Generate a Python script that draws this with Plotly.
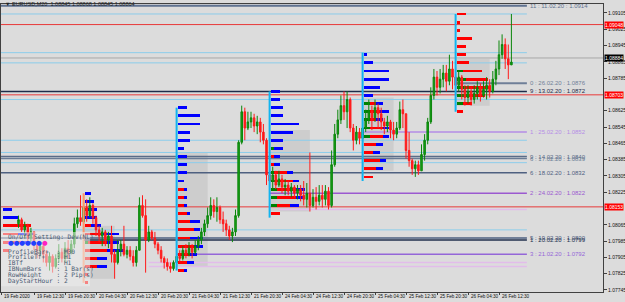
import plotly.graph_objects as go

# ---------------- candles (EURUSD M20) ----------------
bar_index = list(range(160))
opens = [1.0807, 1.0809, 1.0804, 1.0806, 1.0800, 1.0803, 1.0797, 1.0794, 1.0796, 1.0792,
         1.0788, 1.0791, 1.0786, 1.0790, 1.0793, 1.0790, 1.0795, 1.0793, 1.0797, 1.0807,
         1.0810, 1.0808, 1.0815, 1.0811, 1.0816, 1.0810, 1.0804, 1.0801, 1.0803, 1.0799,
         1.0801, 1.0792, 1.0788, 1.0794, 1.0797, 1.0792, 1.0794, 1.0791, 1.0788, 1.0794,
         1.0816, 1.0811, 1.0799, 1.0803, 1.0800, 1.0797, 1.0794, 1.0790, 1.0788, 1.0786,
         1.0785, 1.0788, 1.0791, 1.0790, 1.0794, 1.0792, 1.0795, 1.0793, 1.0796, 1.0799,
         1.0803, 1.0807, 1.0811, 1.0816, 1.0813, 1.0815, 1.0809, 1.0807, 1.0804, 1.0801,
         1.0803, 1.0811, 1.0847, 1.0862, 1.0854, 1.0857, 1.0859, 1.0855, 1.0857, 1.0852,
         1.0848, 1.0831, 1.0828, 1.0831, 1.0826, 1.0829, 1.0825, 1.0826, 1.0823, 1.0825,
         1.0822, 1.0824, 1.0821, 1.0819, 1.0822, 1.0816, 1.0820, 1.0818, 1.0821, 1.0819,
         1.0823, 1.0816, 1.0836, 1.0851, 1.0858, 1.0865, 1.0862, 1.0868, 1.0854, 1.0848,
         1.0852, 1.0849, 1.0854, 1.0858, 1.0862, 1.0859, 1.0864, 1.0861, 1.0857, 1.0855,
         1.0857, 1.0853, 1.0851, 1.0854, 1.0863, 1.0861, 1.0843, 1.0838, 1.0834, 1.0836,
         1.0833, 1.0841, 1.0848, 1.0857, 1.0870, 1.0879, 1.0874, 1.0878, 1.0881, 1.0877,
         1.0883, 1.0879, 1.0875, 1.0879, 1.0873, 1.0869, 1.0872, 1.0868, 1.0871, 1.0874,
         1.0870, 1.0873, 1.0875, 1.0872, 1.0878, 1.0883, 1.0890, 1.0895, 1.0888, 1.0885]
highs = [1.0811, 1.0810, 1.0808, 1.0807, 1.0805, 1.0803, 1.0798, 1.0798, 1.0797, 1.0794,
         1.0793, 1.0792, 1.0792, 1.0797, 1.0795, 1.0798, 1.0799, 1.0799, 1.0810, 1.0814,
         1.0821, 1.0821, 1.0819, 1.0820, 1.0817, 1.0811, 1.0806, 1.0805, 1.0804, 1.0803,
         1.0806, 1.0794, 1.0799, 1.0799, 1.0806, 1.0796, 1.0796, 1.0794, 1.0796, 1.0820,
         1.0821, 1.0819, 1.0806, 1.0804, 1.0803, 1.0798, 1.0796, 1.0791, 1.0790, 1.0788,
         1.0789, 1.0793, 1.0794, 1.0796, 1.0797, 1.0798, 1.0797, 1.0799, 1.0801, 1.0805,
         1.0809, 1.0815, 1.0820, 1.0819, 1.0820, 1.0816, 1.0813, 1.0809, 1.0806, 1.0805,
         1.0814, 1.0848, 1.0865, 1.0864, 1.0862, 1.0862, 1.0861, 1.0860, 1.0859, 1.0856,
         1.0849, 1.0834, 1.0835, 1.0833, 1.0833, 1.0831, 1.0829, 1.0828, 1.0827, 1.0826,
         1.0826, 1.0826, 1.0828, 1.0827, 1.0842, 1.0824, 1.0825, 1.0826, 1.0826, 1.0826,
         1.0825, 1.0843, 1.0856, 1.0863, 1.0870, 1.0872, 1.0872, 1.0869, 1.0856, 1.0855,
         1.0854, 1.0857, 1.0863, 1.0868, 1.0865, 1.0868, 1.0866, 1.0864, 1.0859, 1.0860,
         1.0858, 1.0857, 1.0857, 1.0867, 1.0868, 1.0861, 1.0852, 1.0839, 1.0838, 1.0838,
         1.0846, 1.0851, 1.0859, 1.0874, 1.0883, 1.0882, 1.0883, 1.0885, 1.0885, 1.0890,
         1.0887, 1.0884, 1.0882, 1.0880, 1.0875, 1.0875, 1.0874, 1.0875, 1.0877, 1.0876,
         1.0877, 1.0879, 1.0878, 1.0882, 1.0887, 1.0897, 1.0900, 1.0898, 1.0895, 1.0910]
lows = [1.0805, 1.0803, 1.0800, 1.0798, 1.0797, 1.0794, 1.0790, 1.0791, 1.0788, 1.0786,
        1.0784, 1.0783, 1.0785, 1.0788, 1.0788, 1.0788, 1.0790, 1.0792, 1.0795, 1.0805,
        1.0806, 1.0807, 1.0808, 1.0810, 1.0807, 1.0801, 1.0798, 1.0796, 1.0796, 1.0795,
        1.0788, 1.0780, 1.0787, 1.0791, 1.0791, 1.0790, 1.0789, 1.0786, 1.0786, 1.0794,
        1.0810, 1.0783, 1.0798, 1.0799, 1.0795, 1.0792, 1.0788, 1.0785, 1.0784, 1.0783,
        1.0784, 1.0786, 1.0788, 1.0789, 1.0790, 1.0791, 1.0790, 1.0792, 1.0794, 1.0797,
        1.0801, 1.0805, 1.0809, 1.0810, 1.0808, 1.0807, 1.0803, 1.0801, 1.0799, 1.0798,
        1.0801, 1.0810, 1.0846, 1.0848, 1.0853, 1.0854, 1.0852, 1.0851, 1.0847, 1.0846,
        1.0826, 1.0823, 1.0824, 1.0824, 1.0825, 1.0822, 1.0821, 1.0821, 1.0820, 1.0820,
        1.0819, 1.0818, 1.0816, 1.0815, 1.0813, 1.0815, 1.0814, 1.0816, 1.0815, 1.0816,
        1.0814, 1.0815, 1.0835, 1.0849, 1.0856, 1.0858, 1.0854, 1.0852, 1.0843, 1.0846,
        1.0846, 1.0847, 1.0852, 1.0856, 1.0853, 1.0857, 1.0854, 1.0853, 1.0851, 1.0852,
        1.0849, 1.0848, 1.0849, 1.0853, 1.0854, 1.0839, 1.0835, 1.0831, 1.0830, 1.0831,
        1.0833, 1.0838, 1.0846, 1.0856, 1.0868, 1.0870, 1.0871, 1.0874, 1.0872, 1.0875,
        1.0873, 1.0870, 1.0872, 1.0868, 1.0865, 1.0866, 1.0865, 1.0866, 1.0868, 1.0867,
        1.0869, 1.0868, 1.0869, 1.0871, 1.0875, 1.0880, 1.0888, 1.0883, 1.0878, 1.0885]
closes = [1.0809, 1.0804, 1.0806, 1.0800, 1.0803, 1.0797, 1.0794, 1.0796, 1.0792, 1.0788,
          1.0791, 1.0786, 1.0790, 1.0793, 1.0790, 1.0795, 1.0793, 1.0797, 1.0807, 1.0810,
          1.0808, 1.0815, 1.0811, 1.0816, 1.0810, 1.0804, 1.0801, 1.0803, 1.0799, 1.0801,
          1.0792, 1.0788, 1.0794, 1.0797, 1.0792, 1.0794, 1.0791, 1.0788, 1.0794, 1.0816,
          1.0811, 1.0799, 1.0803, 1.0800, 1.0797, 1.0794, 1.0790, 1.0788, 1.0786, 1.0785,
          1.0788, 1.0791, 1.0790, 1.0794, 1.0792, 1.0795, 1.0793, 1.0796, 1.0799, 1.0803,
          1.0807, 1.0811, 1.0816, 1.0813, 1.0815, 1.0809, 1.0807, 1.0804, 1.0801, 1.0803,
          1.0811, 1.0847, 1.0862, 1.0854, 1.0857, 1.0859, 1.0855, 1.0857, 1.0852, 1.0848,
          1.0831, 1.0828, 1.0831, 1.0826, 1.0829, 1.0825, 1.0826, 1.0823, 1.0825, 1.0822,
          1.0824, 1.0821, 1.0819, 1.0822, 1.0816, 1.0820, 1.0818, 1.0821, 1.0819, 1.0823,
          1.0816, 1.0836, 1.0851, 1.0858, 1.0865, 1.0862, 1.0868, 1.0854, 1.0848, 1.0852,
          1.0849, 1.0854, 1.0858, 1.0862, 1.0859, 1.0864, 1.0861, 1.0857, 1.0855, 1.0857,
          1.0853, 1.0851, 1.0854, 1.0863, 1.0861, 1.0843, 1.0838, 1.0834, 1.0836, 1.0833,
          1.0841, 1.0848, 1.0857, 1.0870, 1.0879, 1.0874, 1.0878, 1.0881, 1.0877, 1.0883,
          1.0879, 1.0875, 1.0879, 1.0873, 1.0869, 1.0872, 1.0868, 1.0871, 1.0874, 1.0870,
          1.0873, 1.0875, 1.0872, 1.0878, 1.0883, 1.0890, 1.0895, 1.0888, 1.0885, 1.08864]

# ---------------- axis labels ----------------
x_tick_bars = [-5.5, 5, 15, 25, 35, 45, 55, 65, 75, 85, 95, 105, 115, 125, 135, 145, 155]
x_tick_text = ["19 Feb 2020", "19 Feb 12:30", "19 Feb 20:30", "20 Feb 04:30", "20 Feb 12:30",
               "20 Feb 20:30", "21 Feb 04:30", "21 Feb 12:30", "21 Feb 20:30", "24 Feb 04:30",
               "24 Feb 12:30", "24 Feb 20:30", "25 Feb 04:30", "25 Feb 12:30", "25 Feb 20:30",
               "26 Feb 04:30", "26 Feb 12:30"]
y_ticks = [1.09105, 1.09025, 1.08945, 1.08865, 1.08785, 1.08625, 1.08545, 1.08465,
           1.08385, 1.08305, 1.08225, 1.08065, 1.07985, 1.07905, 1.07825, 1.07745]
title_text = "\u25bc EURUSD,M20  1.08845 1.08868 1.08845 1.08864"

# ---------------- levels ----------------
label_prices = [1.0914, 1.0876, 1.0872, 1.0852, 1.0840, 1.0839, 1.0832, 1.0822, 1.0800, 1.0799, 1.0792]
label_texts = ["11 : 11.02.20 : 1.0914", "0 : 26.02.20 : 1.0876", "9 : 13.02.20 : 1.0872",
               "1 : 25.02.20 : 1.0852", "9 : 14.02.20 : 1.0840", "6 : 17.02.20 : 1.0839",
               "6 : 18.02.20 : 1.0832", "2 : 24.02.20 : 1.0822", "5 : 19.02.20 : 1.0800",
               "1 : 20.02.20 : 1.0799", "3 : 21.02.20 : 1.0792"]
label_start_bar = [-5.65, 141, -5.65, 111, -5.65, -5.65, -5.65, 81, -5.65, 21, 51]
label_colors = ["#5F7290", "#6F7F98", "#1E2C4A", "#B58DE6", "#5A6C88", "#6A7C96",
                "#4E6080", "#9B59D0", "#4E6080", "#22304E", "#9466D8"]
label_widths = [2, 2, 1.5, 1.5, 1.5, 1.5, 1.5, 1.5, 1.5, 1.5, 1.5]

light_blue_prices = [1.0910, 1.0891, 1.0886, 1.0868, 1.0848, 1.0842, 1.0837, 1.0804]
lilac_prices = [1.0814, 1.0788, 1.0786]
lilac_start_bar = [84, 42, 42]
red_prices = [1.09048, 1.08703, 1.08153]
current_price = 1.08884

# ---------------- market profiles ----------------
pL_start = -5.5
pL_rows = [1.0814, 1.0810, 1.0806, 1.0802, 1.0798, 1.0794]
pL_green = [0, 0, 0, 0, 0, 0]
pL_red = [0, 0, 9, 5, 6, 2]
pL_blue = [3, 5, 0, 5, 3, 0]

p0_start = 21
p0_rows = [1.0822, 1.0818, 1.0814, 1.0810, 1.0806, 1.0802, 1.0798, 1.0794, 1.0790, 1.0786, 1.0782, 1.0778]
p0_green = [0, 0, 0, 0, 0, 0, 1, 0, 0, 0, 0, 0]
p0_red = [0, 0, 1, 0, 2, 5, 6, 7, 4, 4, 1, 1]
p0_blue = [2, 3, 3, 4, 3, 6, 4, 6, 3, 3, 0, 0]

p1_start = 51
p1_rows = [1.0864, 1.0860, 1.0856, 1.0852, 1.0848, 1.0844, 1.0840, 1.0836, 1.0832, 1.0828, 1.0824,
           1.0820, 1.0816, 1.0812, 1.0808, 1.0804, 1.0800, 1.0796, 1.0792, 1.0788, 1.0784]
p1_green = [0] * 21
p1_red = [0, 0, 0, 0, 0, 0, 0, 0, 0, 0, 2, 2, 2, 3, 4, 5, 4, 5, 4, 3, 2]
p1_blue = [3, 7, 7, 4, 4, 2, 3, 3, 3, 2, 1, 1, 1, 1, 3, 2, 4, 3, 2, 2, 1]

p2_start = 81
p2_rows = [1.0872, 1.0868, 1.0864, 1.0860, 1.0856, 1.0852, 1.0848, 1.0844, 1.0840, 1.0836, 1.0832,
           1.0828, 1.0824, 1.0820, 1.0816, 1.0812]
p2_green = [0, 0, 0, 0, 0, 0, 0, 1, 0, 0, 1, 2, 2, 2, 2, 0]
p2_red = [0, 0, 0, 0, 0, 0, 0, 0, 1, 1, 4, 5, 6, 6, 4, 3]
p2_blue = [3, 3, 4, 4, 9, 7, 4, 3, 2, 2, 2, 2, 3, 3, 3, 0]

p3_start = 111
p3_rows = [1.0890, 1.0886, 1.0882, 1.0878, 1.0874, 1.0870, 1.0866, 1.0862, 1.0858, 1.0854, 1.0850,
           1.0846, 1.0842, 1.0838, 1.0834, 1.0830]
p3_green = [0, 0, 0, 0, 0, 0, 2, 2, 2, 2, 2, 0, 0, 0, 0, 0]
p3_red = [0, 0, 0, 0, 0, 0, 2, 3, 2, 4, 4, 4, 3, 5, 4, 3]
p3_blue = [1, 3, 8, 8, 5, 3, 2, 3, 2, 2, 2, 2, 2, 2, 2, 0]

p4_start = 141
p4_rows = [1.0910, 1.0906, 1.0902, 1.0898, 1.0894, 1.0890, 1.0886, 1.0882, 1.0878, 1.0874, 1.0870,
           1.0866, 1.0862]
p4_green = [0, 0, 0, 0, 0, 0, 0, 2, 3, 3, 4, 2, 0]
p4_red = [3, 1, 1, 5, 3, 3, 4, 6, 7, 8, 5, 3, 2]
p4_blue = [0] * 13

profile_lines_bar = [21, 51, 81, 111, 141]
profile_lines_low = [1.0778, 1.0784, 1.0810, 1.0828, 1.0862]
profile_lines_high = [1.0822, 1.0864, 1.0872, 1.0891, 1.0910]
profile_lines_color = ["#FF9466", "#12B4F0", "#12B4F0", "#12B4F0", "#12B4F0"]

va_start = [21, 51, 81, 111, 141]
va_end = [31, 61, 94, 121, 152]
va_low = [1.0780, 1.0786, 1.0813, 1.0833, 1.0865]
va_high = [1.0806, 1.0842, 1.0853, 1.0869, 1.0888]

panel_lines = ["On/Off Setting: Dev(NL)", "ProfileBar+  : M30", "ProfileTf+   : H1",
               "IBTf         : H1", "IBNumBars    : 1 Bar(s)", "RowHeight    : 2 Pip(s)",
               "DayStartHour : 2"]

X_MIN, X_MAX = -5.65, 188.55
Y_MIN, Y_MAX = 1.07735, 1.09149
LINE_END = 164
BG = "#DCDCDC"

fig = go.Figure()
shapes = []
for x0, x1, lo, hi in zip(va_start, va_end, va_low, va_high):
    shapes.append(dict(type="rect", xref="x", yref="y", x0=x0, x1=x1, y0=lo, y1=hi,
                       fillcolor="#CDCDCD", line_width=0, layer="below"))
for p in light_blue_prices:
    shapes.append(dict(type="line", xref="x", yref="y", x0=X_MIN, x1=LINE_END, y0=p, y1=p,
                       line=dict(color="#8CCDEB", width=1), layer="below"))
for p, s in zip(lilac_prices, lilac_start_bar):
    shapes.append(dict(type="line", xref="x", yref="y", x0=s, x1=LINE_END, y0=p, y1=p,
                       line=dict(color="#E2BCEA", width=1.5), layer="below"))
for p, s, c, w in zip(label_prices, label_start_bar, label_colors, label_widths):
    shapes.append(dict(type="line", xref="x", yref="y", x0=s, x1=LINE_END, y0=p, y1=p,
                       line=dict(color=c, width=w), layer="below"))
for p in red_prices:
    shapes.append(dict(type="line", xref="x", yref="y", x0=X_MIN, x1=X_MAX, y0=p, y1=p,
                       line=dict(color="#E83A3A", width=1), layer="below"))
shapes.append(dict(type="line", xref="x", yref="y", x0=X_MIN, x1=X_MAX, y0=current_price,
                   y1=current_price, line=dict(color="#A8A8A8", width=1), layer="below"))

fig.add_trace(go.Candlestick(
    x=bar_index, open=opens, high=highs, low=lows, close=closes,
    increasing=dict(line=dict(color="#0B860B", width=1), fillcolor="#17A317"),
    decreasing=dict(line=dict(color="#FF1A1A", width=1), fillcolor="#FF1A1A"),
    whiskerwidth=0, showlegend=False, hoverinfo="skip"))

profiles = [(pL_start, pL_rows, pL_green, pL_red, pL_blue),
            (p0_start, p0_rows, p0_green, p0_red, p0_blue),
            (p1_start, p1_rows, p1_green, p1_red, p1_blue),
            (p2_start, p2_rows, p2_green, p2_red, p2_blue),
            (p3_start, p3_rows, p3_green, p3_red, p3_blue),
            (p4_start, p4_rows, p4_green, p4_red, p4_blue)]
seg_colors = ["#008000", "#FF0000", "#0000FF"]
for start, rows, g, r, b in profiles:
    base = [start + 0.45] * len(rows)
    for vals, col in zip((g, r, b), seg_colors):
        fig.add_trace(go.Bar(orientation="h", y=rows, x=vals, base=list(base), width=0.00014,
                             marker=dict(color=col, line=dict(width=0)),
                             showlegend=False, hoverinfo="skip"))
        base = [bb + v for bb, v in zip(base, vals)]

for xb, lo, hi, c in zip(profile_lines_bar, profile_lines_low, profile_lines_high, profile_lines_color):
    shapes.append(dict(type="line", xref="x", yref="y", x0=xb, x1=xb, y0=lo, y1=hi,
                       line=dict(color=c, width=2)))

# translucent panel behind settings text
shapes.append(dict(type="rect", xref="paper", yref="paper", x0=0.0, x1=0.148, y0=0.02, y1=0.208,
                   fillcolor="rgba(236,236,236,0.55)", line_width=0))

annotations = []
for p, t, c in zip(label_prices, label_texts, label_colors):
    annotations.append(dict(x=LINE_END, y=p, xref="x", yref="y", text=t, showarrow=False,
                            xanchor="left", yanchor="middle", xshift=1,
                            font=dict(family="Liberation Sans", size=6, color=c)))
for p, bg in zip(red_prices + [current_price], ["#FF0000", "#FF0000", "#FF0000", "#000000"]):
    annotations.append(dict(x=1, y=p, xref="paper", yref="y", text=f"{p:.5f}", showarrow=False,
                            xanchor="left", yanchor="middle", xshift=1, bgcolor=bg, borderpad=0,
                            font=dict(family="Liberation Sans", size=5, color="#FFFFFF")))
annotations.append(dict(x=0.004, y=1, xref="paper", yref="paper", text=title_text, showarrow=False,
                        xanchor="left", yanchor="middle",
                        font=dict(family="Liberation Sans", size=5.5, color="#202020")))
panel_y = [0.191, 0.142, 0.122, 0.101, 0.080, 0.059, 0.038]
for t, yy in zip(panel_lines, panel_y):
    annotations.append(dict(x=0.008, y=yy, xref="paper", yref="paper",
                            text=t.replace(" ", "\u00a0"), showarrow=False,
                            xanchor="left", yanchor="middle",
                            font=dict(family="DejaVu Sans Mono", size=6.2, color="#4A5A72")))
annotations.append(dict(x=0.008, y=0.170, xref="paper", yref="paper",
                        text="<span style='color:#2040FF'>\u25cf\u25cf\u25cf\u25cf\u25cf\u25cf</span>"
                             "<span style='color:#FF20C0'>\u25cf</span>",
                        showarrow=False, xanchor="left", yanchor="middle",
                        font=dict(family="DejaVu Sans", size=6.5)))
# time labels, left-aligned at their tick like the terminal draws them
for xb, t in zip(x_tick_bars, x_tick_text):
    annotations.append(dict(x=xb, y=0, xref="x", yref="paper", text=t, showarrow=False,
                            xanchor="left", yanchor="middle", yshift=-4.5, xshift=0.5,
                            font=dict(family="Liberation Sans", size=4.6, color="#101010")))

fig.update_layout(
    width=625, height=302, margin=dict(l=1, r=22, t=4, b=10),
    paper_bgcolor=BG, plot_bgcolor=BG, barmode="overlay", bargap=0,
    shapes=shapes, annotations=annotations, showlegend=False,
    xaxis=dict(range=[X_MIN, X_MAX], tickvals=x_tick_bars, ticktext=[""] * len(x_tick_bars),
               automargin=False, ticks="outside", ticklen=2, tickcolor="#404040",
               showgrid=False, zeroline=False,
               showline=True, mirror=True, linecolor="#404040", linewidth=1,
               rangeslider=dict(visible=False)),
    yaxis=dict(range=[Y_MIN, Y_MAX], side="right", tickvals=y_ticks, automargin=False,
               ticktext=[f"{v:.5f}" for v in y_ticks],
               tickfont=dict(family="Liberation Sans", size=5, color="#101010"),
               ticks="outside", ticklen=3, tickcolor="#404040", showgrid=False, zeroline=False,
               showline=True, mirror=True, linecolor="#404040", linewidth=1),
)

fig.write_html("out.html")
